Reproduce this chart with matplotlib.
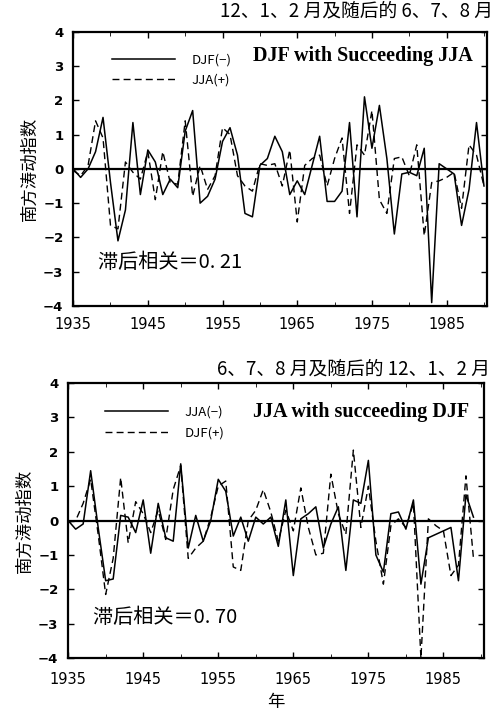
import matplotlib

matplotlib.use('Agg')
import matplotlib.pyplot as plt
import numpy as np

plt.rcParams['font.family'] = ['Noto Sans CJK SC', 'DejaVu Sans']

# 年份
years_top = np.arange(1935, 1991)
years_bot = np.arange(1935, 1990)

# 上图：12、1、2 月 (DJF) 及随后的 6、7、8 月 (JJA)
djf_top = [0.0, -0.25, 0.0, 0.5, 1.5, -0.4, -2.1, -1.2, 1.35, -0.75,
           0.55, 0.2, -0.75, -0.3, -0.55, 1.1, 1.7, -1.0, -0.8, -0.3,
           0.8, 1.2, 0.4, -1.3, -1.4, 0.1, 0.3, 0.95, 0.5, -0.75,
           -0.35, -0.75, 0.1, 0.95, -0.95, -0.95, -0.65, 1.35, -1.4, 2.1,
           0.6, 1.85, 0.3, -1.9, -0.15, -0.1, -0.2, 0.6, -3.9, 0.15,
           0.0, -0.15, -1.65, -0.6, 1.35, -0.5]
jja_top = [-0.05, -0.2, 0.1, 1.4, 0.9, -1.65, -1.75, 0.2, -0.1, -0.3,
           0.5, -0.9, 0.5, -0.4, -0.45, 1.4, -0.8, 0.1, -0.6, -0.2,
           1.2, 1.0, -0.2, -0.5, -0.65, 0.15, 0.1, 0.15, -0.5, 0.55,
           -1.55, 0.1, 0.3, 0.4, -0.5, 0.3, 0.9, -1.3, 0.7, 0.4,
           1.7, -0.9, -1.3, 0.3, 0.35, -0.2, 0.7, -1.95, -0.4, -0.35,
           -0.25, -0.1, -1.15, 0.7, 0.4, -0.5]

# 下图：6、7、8 月 (JJA) 及随后的 12、1、2 月 (DJF)
jja_bot = [0.0, -0.25, -0.1, 1.45, -0.2, -1.75, -1.7, 0.15, 0.1, -0.35,
           0.6, -0.95, 0.5, -0.5, -0.6, 1.65, -0.8, 0.15, -0.6, 0.0,
           1.2, 0.85, -0.45, 0.1, -0.6, 0.1, -0.1, 0.1, -0.75, 0.6,
           -1.6, 0.05, 0.2, 0.4, -0.8, -0.1, 0.4, -1.45, 0.6, 0.5,
           1.75, -1.0, -1.5, 0.2, 0.25, -0.25, 0.6, -1.85, -0.5, -0.4,
           -0.3, -0.2, -1.75, 0.75, 0.1]
djf_bot = [-0.05, 0.0, 0.5, 1.2, -0.4, -2.15, -1.1, 1.25, -0.65, 0.55,
           0.2, -0.35, 0.3, -0.55, 0.9, 1.6, -1.1, -0.8, -0.6, 0.1,
           1.0, 1.15, -1.35, -1.45, 0.0, 0.3, 0.9, 0.25, -0.6, 0.3,
           -0.3, 0.95, -0.2, -1.0, -0.95, 1.35, 0.2, -0.4, 2.05, -0.2,
           1.0, -0.6, -1.85, -0.15, 0.05, -0.2, 0.5, -4.0, 0.05, -0.15,
           -0.3, -1.6, -1.3, 1.3, -1.1]

x_ticks = [1935, 1945, 1955, 1965, 1975, 1985]
y_ticks = [-4, -3, -2, -1, 0, 1, 2, 3, 4]

fig = plt.figure(figsize=(5.01, 7.2), dpi=100)
ax1 = fig.add_axes([0.146, 0.575, 0.826, 0.381])
ax2 = fig.add_axes([0.136, 0.086, 0.830, 0.382])

panels = [
    (ax1, years_top, djf_top, jja_top, 'DJF(\u2212)', 'JJA(+)',
     'DJF with Succeeding JJA', '滞后相关＝0. 21', '12、1、2 月及随后的 6、7、8 月',
     (0.094, 0.92), 0.913, 0.157, 8, 1.075),
    (ax2, years_bot, jja_bot, djf_bot, 'JJA(\u2212)', 'DJF(+)',
     'JJA with succeeding DJF', '滞后相关＝0. 70', '6、7、8 月及随后的 12、1、2 月',
     (0.089, 0.917), 0.895, 0.149, 10, 1.05),
]

for ax, yrs, s1, s2, lab1, lab2, eng, corr, title, leg_xy, eng_y, corr_y, xpad, title_y in panels:
    ax.plot(yrs, s1, color='black', lw=1.1, label=lab1)
    ax.plot(yrs, s2, color='black', lw=1.0, ls=(0, (5, 3)), label=lab2)
    ax.axhline(0, color='black', lw=1.6)
    ax.set_xlim(1935, 1990.4)
    ax.set_ylim(-4, 4)
    ax.set_xticks(x_ticks)
    ax.set_xticks(np.arange(1935, 1991, 5), minor=True)
    ax.set_yticks(y_ticks)
    ax.set_yticklabels([str(v).replace('-', '−') for v in y_ticks],
                       fontsize=9.5, fontweight='bold', family='DejaVu Sans')
    ax.set_xticklabels([str(v) for v in x_ticks], fontsize=10.5,
                       family='DejaVu Sans')
    ax.tick_params(axis='y', pad=7)
    ax.tick_params(axis='x', pad=xpad)
    ax.tick_params(direction='in', length=4, width=1, top=True, right=True)
    ax.tick_params(which='minor', direction='in', length=3, top=True)
    for sp in ax.spines.values():
        sp.set_linewidth(1.6)
    ax.set_ylabel('南方涛动指数', fontsize=12.5, labelpad=3)
    ax.legend(loc='upper left', bbox_to_anchor=leg_xy, borderaxespad=0,
              borderpad=0, frameon=False, handlelength=4.8, fontsize=9.5,
              labelspacing=0.55, handletextpad=1.2)
    ax.text(0.965, eng_y, eng, transform=ax.transAxes, ha='right',
            va='center', fontsize=14.5, fontweight='bold',
            family='Liberation Serif')
    ax.text(0.06, corr_y, corr, transform=ax.transAxes, ha='left',
            va='center', fontsize=14.5)
    ax.text(1.015, title_y, title, transform=ax.transAxes, ha='right',
            va='center', fontsize=13.5)

ax2.set_xlabel('年', fontsize=12.5, labelpad=4)

fig.savefig('out.png', dpi=100)
